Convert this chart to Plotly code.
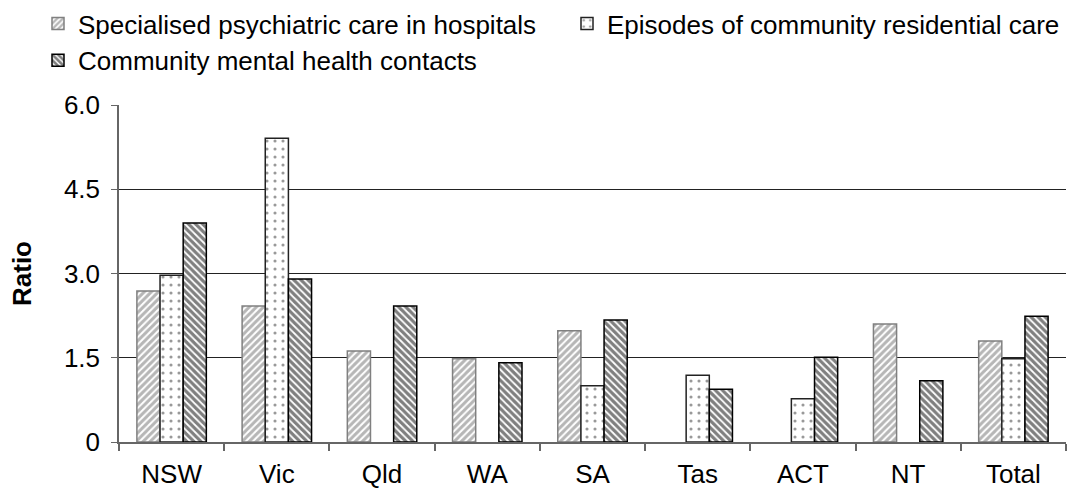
import plotly.graph_objects as go

categories = ["NSW", "Vic", "Qld", "WA", "SA", "Tas", "ACT", "NT", "Total"]
hospital = [2.69, 2.42, 1.62, 1.48, 1.98, None, None, 2.10, 1.80]
residential = [2.97, 5.41, None, None, 1.00, 1.19, 0.77, None, 1.48]
community = [3.90, 2.90, 2.42, 1.41, 2.17, 0.94, 1.51, 1.09, 2.24]
y_ticks = [0, 1.5, 3.0, 4.5, 6.0]
y_tick_labels = ["0", "1.5", "3.0", "4.5", "6.0"]

fig = go.Figure()
fig.add_trace(go.Bar(
    x=categories, y=hospital, name="Specialised psychiatric care in hospitals",
    marker=dict(color="white", line=dict(color="#808080", width=1.5),
                pattern=dict(shape="/", fgcolor="#6e6e6e", bgcolor="white", size=5, solidity=0.6)),
))
fig.add_trace(go.Bar(
    x=categories, y=residential, name="Episodes of community residential care",
    marker=dict(color="white", line=dict(color="#222222", width=1.5),
                pattern=dict(shape=".", fgcolor="#333333", bgcolor="white", size=8, solidity=0.12)),
))
fig.add_trace(go.Bar(
    x=categories, y=community, name="Community mental health contacts",
    marker=dict(color="white", line=dict(color="#000000", width=1.5),
                pattern=dict(shape="\\", fgcolor="#000000", bgcolor="white", size=5, solidity=0.65)),
))

FONT = "Liberation Sans, Arial, sans-serif"
L, R, T, B = 119, 3, 105, 48
PW, PH = 1069 - L - R, 490 - T - B
fig.update_layout(
    width=1069, height=490,
    margin=dict(l=L, r=R, t=T, b=B, autoexpand=False),
    paper_bgcolor="white", plot_bgcolor="white",
    font=dict(family=FONT, size=26, color="black"),
    barmode="group", bargap=0.34, bargroupgap=0.0,
    showlegend=True,
    legend=dict(orientation="h", x=(38 - L) / PW, y=1 + T / PH, xanchor="left", yanchor="top",
                entrywidth=484, entrywidthmode="pixels",
                font=dict(size=26), itemwidth=30, tracegroupgap=0,
                bgcolor="rgba(0,0,0,0)"),
    xaxis=dict(showline=True, linecolor="#666666", linewidth=1.5, ticks="outside",
               tickson="boundaries", ticklen=7, tickcolor="#666666", tickwidth=1.5,
               showgrid=False, tickfont=dict(size=26), ticklabelstandoff=8),
    yaxis=dict(range=[0, 6.0], tickvals=y_ticks, ticktext=y_tick_labels,
               showline=True, linecolor="#666666", linewidth=1.5, ticks="outside",
               ticklen=6, tickcolor="#666666", showgrid=True, gridcolor="#222222",
               gridwidth=1, zeroline=False, tickfont=dict(size=26), ticklabelstandoff=6,
               title=dict(text="<b>Ratio</b>", font=dict(size=26), standoff=25)),
)

fig.write_html("out.html", config={"displayModeBar": False},
               post_script="document.body.style.margin='0';")
